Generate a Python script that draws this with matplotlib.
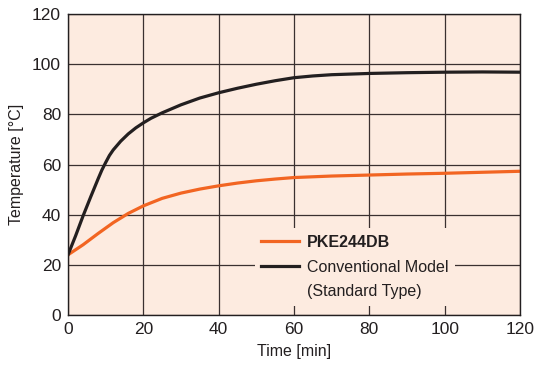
import matplotlib
matplotlib.use("Agg")
import matplotlib.pyplot as plt
from matplotlib.lines import Line2D

# data
conv_time = [0, 2, 4, 6, 8, 9, 10, 11, 12, 14, 16, 18, 20, 22, 25, 30, 35, 40, 45, 50, 55, 60, 65, 70, 80, 90, 100, 110, 120]
conventional = [24, 31.5, 39.5, 47, 54.3, 57.8, 60.8, 63.6, 65.8, 69.3, 72.2, 74.6, 76.6, 78.4, 80.6, 83.8, 86.5, 88.6, 90.4, 92, 93.4, 94.6, 95.3, 95.8, 96.3, 96.6, 96.8, 96.9, 96.8]
pke_time = [0, 4, 8, 12, 16, 20, 25, 30, 35, 40, 45, 50, 55, 60, 70, 80, 90, 100, 110, 120]
pke244db = [24, 28, 32.5, 36.8, 40.5, 43.5, 46.5, 48.6, 50.2, 51.5, 52.6, 53.5, 54.2, 54.8, 55.4, 55.8, 56.2, 56.5, 56.9, 57.3]

x_ticks = [0, 20, 40, 60, 80, 100, 120]
y_ticks = [0, 20, 40, 60, 80, 100, 120]
legend_labels = ["PKE244DB", "Conventional Model", "(Standard Type)"]

plt.rcParams["font.family"] = ["Liberation Sans", "DejaVu Sans"]

fig = plt.figure(figsize=(5.34, 3.72), dpi=100)
ax = fig.add_axes([68 / 534, 57 / 372, 452 / 534, 301 / 372])
ax.set_facecolor("#fdebe0")

l1, = ax.plot(pke_time, pke244db, color="#f26522", lw=2.3, solid_joinstyle="round")
l2, = ax.plot(conv_time, conventional, color="#231f20", lw=2.3, solid_joinstyle="round")

ax.set_xlim(0, 120)
ax.set_ylim(0, 120)
ax.set_xticks(x_ticks)
ax.set_yticks(y_ticks)
ax.grid(True, color="#3a3030", lw=0.9)
ax.set_axisbelow(True)
ax.tick_params(length=0, labelsize=12.5, pad=5, colors="#231f20")
for s in ax.spines.values():
    s.set_color("#231f20")
    s.set_linewidth(1.0)

ax.set_xlabel("Time [min]", fontsize=11.5, color="#231f20", labelpad=5)
ax.set_ylabel("Temperature [°C]", fontsize=11.5, color="#231f20", labelpad=6)

# second line of the conventional label sits under its text, without a handle
blank = Line2D([], [], color="none")
leg = ax.legend([l1, l2, blank], legend_labels, loc="lower left", bbox_to_anchor=(0.395, 0.004),
                frameon=True, fontsize=11.5, handlelength=2.4, handletextpad=0.5,
                borderpad=0.4, labelspacing=0.62)
leg.get_frame().set_facecolor("#fdebe0")
leg.get_frame().set_edgecolor("none")
leg.get_frame().set_alpha(1)
leg.get_texts()[0].set_fontweight("bold")
for t in leg.get_texts():
    t.set_color("#231f20")

fig.savefig("out.png", dpi=100)
